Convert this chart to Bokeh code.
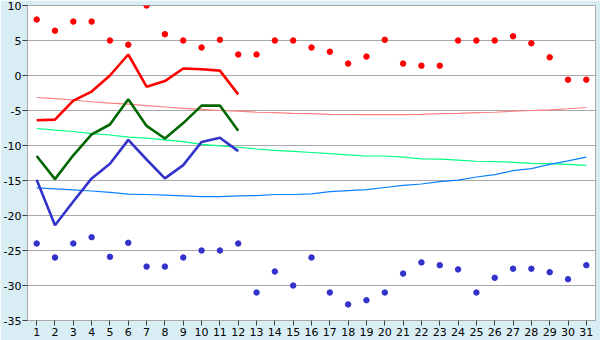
from bokeh.plotting import figure
from bokeh.models import FixedTicker, Range1d
from bokeh.embed import file_html
from bokeh.resources import INLINE

days = list(range(1, 32))
line_days = list(range(1, 13))

max_points = [8.0, 6.4, 7.7, 7.7, 5.0, 4.4, 10.0, 5.9, 5.0, 4.0, 5.1, 3.0, 3.0, 5.0, 5.0,
              4.0, 3.4, 1.7, 2.7, 5.1, 1.7, 1.4, 1.4, 5.0, 5.0, 5.0, 5.6, 4.6, 2.6, -0.6, -0.6]
min_points = [-24.0, -26.0, -24.0, -23.1, -25.9, -23.9, -27.3, -27.3, -26.0, -25.0, -25.0, -24.0,
              -31.0, -28.0, -30.0, -26.0, -31.0, -32.7, -32.1, -31.0, -28.3, -26.7, -27.1, -27.7,
              -31.0, -28.9, -27.6, -27.6, -28.1, -29.1, -27.1]

red_line = [-6.4, -6.3, -3.6, -2.3, 0.0, 3.0, -1.6, -0.8, 1.0, 0.9, 0.7, -2.7]
green_line = [-11.5, -14.8, -11.4, -8.4, -7.0, -3.4, -7.2, -9.0, -6.8, -4.3, -4.3, -7.9]
blue_line = [-14.9, -21.4, -18.0, -14.7, -12.6, -9.2, -12.0, -14.7, -12.8, -9.5, -8.9, -10.8]

pink_trend = [-3.14, -3.3, -3.5, -3.75, -3.95, -4.1, -4.3, -4.5, -4.7, -4.85, -5.0, -5.1, -5.25,
              -5.3, -5.4, -5.45, -5.55, -5.57, -5.6, -5.6, -5.6, -5.55, -5.45, -5.4, -5.3, -5.25,
              -5.1, -5.0, -4.9, -4.75, -4.57]
green_trend = [-7.57, -7.8, -8.0, -8.3, -8.5, -8.8, -8.95, -9.2, -9.45, -9.85, -10.05, -10.25,
               -10.5, -10.7, -10.85, -11.0, -11.15, -11.35, -11.5, -11.5, -11.65, -11.9, -11.95,
               -12.1, -12.25, -12.3, -12.4, -12.55, -12.6, -12.7, -12.85]
blue_trend = [-16.05, -16.2, -16.35, -16.5, -16.7, -16.95, -17.0, -17.1, -17.2, -17.3, -17.3,
              -17.2, -17.15, -17.0, -17.0, -16.9, -16.6, -16.45, -16.3, -16.0, -15.7, -15.5,
              -15.15, -14.95, -14.5, -14.15, -13.6, -13.3, -12.7, -12.2, -11.67]

y_ticks = [10, 5, 0, -5, -10, -15, -20, -25, -30, -35]
y_tick_labels = ["10", "5", "0", "-5", "-10", "-15", "-20", "-25", "-30", "-35"]

BG = "#D9EEF4"
GRID = "#A8A8A8"
FONT = "DejaVu Sans"

p = figure(width=600, height=340, output_backend="svg", toolbar_location=None,
           x_range=Range1d(0.5, 31.5), y_range=Range1d(-35, 10),
           min_border_left=27, min_border_right=5, min_border_top=5, min_border_bottom=20)
p.background_fill_color = "white"
p.border_fill_color = BG
p.outline_line_color = GRID
p.outline_line_width = 1

p.xgrid.grid_line_color = None
p.ygrid.grid_line_color = GRID
p.ygrid.ticker = FixedTicker(ticks=y_ticks)

p.xaxis.ticker = FixedTicker(ticks=days)
p.yaxis.ticker = FixedTicker(ticks=y_ticks)
for ax in (p.xaxis, p.yaxis):
    ax.axis_line_color = GRID
    ax.major_tick_line_color = "#404040"
    ax.major_tick_out = 5
    ax.major_tick_in = 0
    ax.minor_tick_line_color = None
    ax.major_label_text_font = FONT
    ax.major_label_text_font_size = "11px"
    ax.major_label_text_color = "black"
p.xaxis.major_label_standoff = 2
p.yaxis.major_label_standoff = 1
# plain hyphen-minus labels, as in the reference
p.yaxis.major_label_overrides = dict(zip(y_ticks, y_tick_labels))

# trend curves
p.line(days, pink_trend, line_color="#FF8080", line_width=1.2)
p.line(days, green_trend, line_color="#00FF80", line_width=1.2)
p.line(days, blue_trend, line_color="#0A80FF", line_width=1.2)

# main lines
p.line(line_days, red_line, line_color="#FF0000", line_width=2.6)
p.line(line_days, green_line, line_color="#006600", line_width=2.6)
p.line(line_days, blue_line, line_color="#3333CC", line_width=2.6)

# points
p.scatter(days, max_points, marker="circle", size=5.5, fill_color="#FF0000", line_color="#FF0000")
p.scatter(days, min_points, marker="circle", size=5.5, fill_color="#3333CC", line_color="#3333CC")

open("out.html", "w").write(file_html(p, INLINE))
